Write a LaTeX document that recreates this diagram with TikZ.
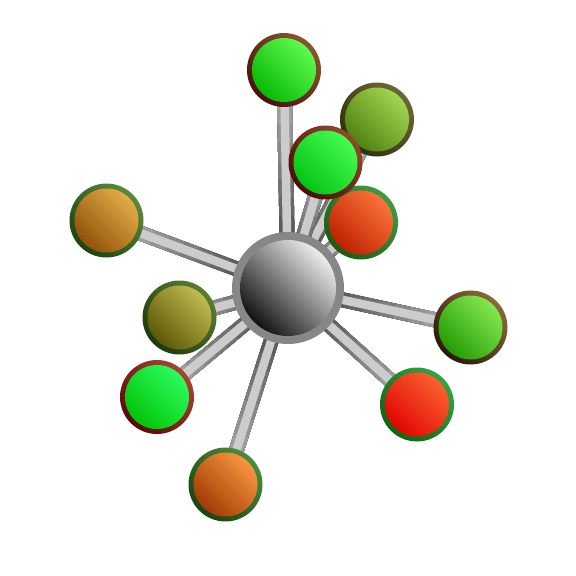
\documentclass[tikz,border=0pt]{standalone}
\usetikzlibrary{calc,backgrounds}
\definecolor{edD}{HTML}{3A3A3A}
\definecolor{edL}{HTML}{B4B4B4}
\definecolor{barfill}{HTML}{CCCCCC}
\definecolor{ringgray}{HTML}{878787}
% node colours: fill dark, fill light, rim dark, rim light
\definecolor{fA1}{HTML}{00B400}\definecolor{fB1}{HTML}{66FF55}\definecolor{rA1}{HTML}{4A1008}\definecolor{rB1}{HTML}{8A5530}
\definecolor{fA2}{HTML}{4A7A0C}\definecolor{fB2}{HTML}{A8DC55}\definecolor{rA2}{HTML}{2E2E0C}\definecolor{rB2}{HTML}{6E6638}
\definecolor{fA3}{HTML}{00C010}\definecolor{fB3}{HTML}{4CFF55}\definecolor{rA3}{HTML}{4C0C06}\definecolor{rB3}{HTML}{8E4A2C}
\definecolor{fA4}{HTML}{B81A00}\definecolor{fB4}{HTML}{FF7A3A}\definecolor{rA4}{HTML}{1A5C14}\definecolor{rB4}{HTML}{3C9C44}
\definecolor{fA5}{HTML}{8A4A06}\definecolor{fB5}{HTML}{EAB44A}\definecolor{rA5}{HTML}{1C4412}\definecolor{rB5}{HTML}{5A8A3C}
\definecolor{fA6}{HTML}{555000}\definecolor{fB6}{HTML}{C8C255}\definecolor{rA6}{HTML}{1C3A10}\definecolor{rB6}{HTML}{5A7C34}
\definecolor{fA7}{HTML}{00C000}\definecolor{fB7}{HTML}{2EFF66}\definecolor{rA7}{HTML}{5A0808}\definecolor{rB7}{HTML}{A84432}
\definecolor{fA8}{HTML}{9A3400}\definecolor{fB8}{HTML}{FF9C44}\definecolor{rA8}{HTML}{184410}\definecolor{rB8}{HTML}{4C8C3C}
\definecolor{fA9}{HTML}{DD0000}\definecolor{fB9}{HTML}{FF6633}\definecolor{rA9}{HTML}{106410}\definecolor{rB9}{HTML}{34A444}
\definecolor{fA10}{HTML}{1E9600}\definecolor{fB10}{HTML}{8AEE55}\definecolor{rA10}{HTML}{2A1808}\definecolor{rB10}{HTML}{8A6A38}
\tikzset{
  ball/.style={circle, minimum size=74pt, inner sep=0pt,
    shading=axis, bottom color=rA#1, top color=rB#1, shading angle=-45,
    path picture={\shade[bottom color=fA#1, top color=fB#1, shading angle=-45]
      (path picture bounding box.center) circle (32pt);}},
  hub/.style={circle, minimum size=112pt, inner sep=0pt, fill=ringgray,
    path picture={\shade[bottom color=black, top color=white, shading angle=-45]
      (path picture bounding box.center) circle (48pt);}},
  barcore/.style={line width=8.5pt, color=barfill},
}
\begin{document}
\begin{tikzpicture}[x=1pt,y=-1pt]
\useasboundingbox (0,0) rectangle (576,576);
\node[hub] (c) at (288,288) {};
\node[ball=1] (n1) at (284,70) {};
\node[ball=2] (n2) at (377,119.5) {};
\node[ball=4] (n4) at (361,222.5) {};
\node[ball=3] (n3) at (325.5,162.5) {};
\node[ball=5] (n5) at (106.5,220.5) {};
\node[ball=6] (n6) at (179.5,317.5) {};
\node[ball=7] (n7) at (157,397) {};
\node[ball=8] (n8) at (225.5,484.5) {};
\node[ball=9] (n9) at (417,404.5) {};
\node[ball=10] (n10) at (470.5,327.5) {};
\begin{pgfonlayer}{background}
\foreach \n in {n1,n2,n3,n4,n5,n6,n7,n8,n9,n10} {
  \foreach \i in {0,...,11} {
    \pgfmathtruncatemacro\m{100-\i*100/11}
    \pgfmathsetmacro\t{\i/12}
    \draw[line width=15pt, color=edD!\m!edL] ($(c.center)!\t!(\n.center)$) -- (\n.center);
  }
  \draw[barcore] (c.center) -- (\n.center);
}
\end{pgfonlayer}
\end{tikzpicture}
\end{document}
